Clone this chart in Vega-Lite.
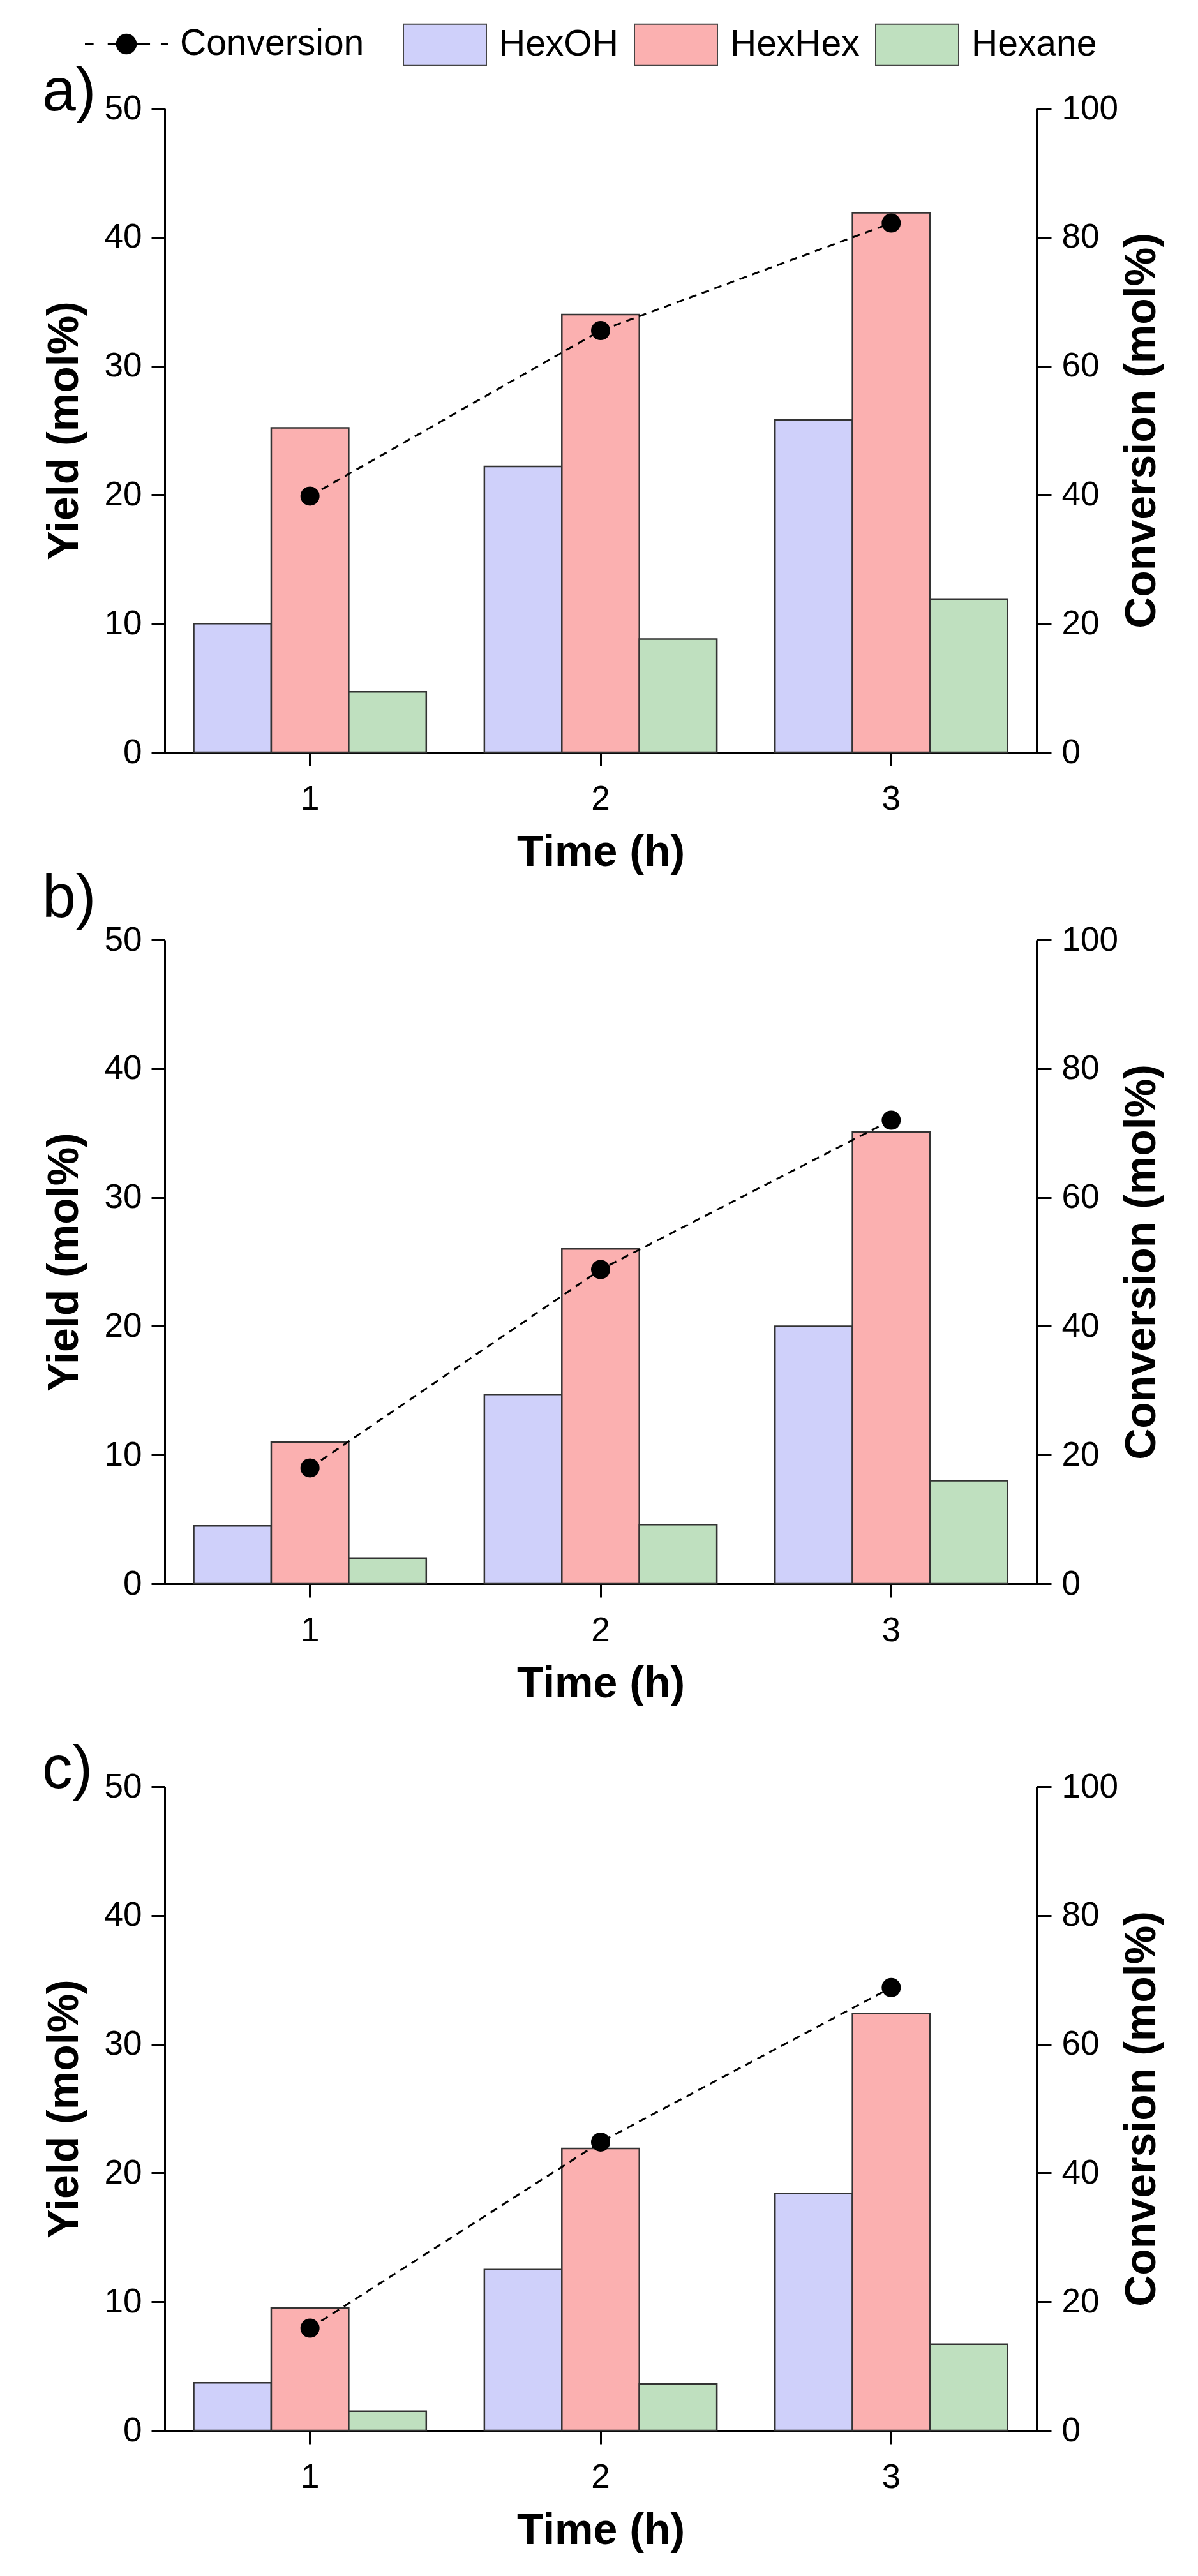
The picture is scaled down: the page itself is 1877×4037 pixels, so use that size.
{
  "$schema": "https://vega.github.io/schema/vega-lite/v6.json",
  "background": "white",
  "padding": {"left": 66, "top": 4, "right": 40, "bottom": 30},
  "bounds": "flush",
  "spacing": 294,
  "config": {
    "font": "Liberation Sans",
    "view": {"stroke": null},
    "axis": {
      "grid": false,
      "domainColor": "black",
      "domainWidth": 3,
      "tickColor": "black",
      "tickWidth": 3,
      "tickSize": 21,
      "labelFont": "Liberation Sans",
      "labelFontSize": 53,
      "labelColor": "black",
      "labelPadding": 15,
      "titleFont": "Liberation Sans",
      "titleFontSize": 68,
      "titleFontWeight": "bold",
      "titleColor": "black"
    },
    "legend": {
      "orient": "none",
      "direction": "horizontal",
      "title": null,
      "labelFont": "Liberation Sans",
      "labelFontSize": 57,
      "labelColor": "black",
      "labelOffset": 19,
      "labelLimit": 0,
      "columnPadding": 21,
      "symbolSize": 16900
    },
    "title": {
      "font": "Liberation Sans",
      "fontSize": 95,
      "fontWeight": "normal",
      "color": "black",
      "anchor": "start",
      "frame": "group",
      "baseline": "alphabetic",
      "dx": -192
    }
  },
  "datasets": {
    "yield": [
      {"panel": "a", "Time": 1, "Product": "HexOH", "Yield": 10.0},
      {"panel": "a", "Time": 1, "Product": "HexHex", "Yield": 25.2},
      {"panel": "a", "Time": 1, "Product": "Hexane", "Yield": 4.7},
      {"panel": "a", "Time": 2, "Product": "HexOH", "Yield": 22.2},
      {"panel": "a", "Time": 2, "Product": "HexHex", "Yield": 34.0},
      {"panel": "a", "Time": 2, "Product": "Hexane", "Yield": 8.8},
      {"panel": "a", "Time": 3, "Product": "HexOH", "Yield": 25.8},
      {"panel": "a", "Time": 3, "Product": "HexHex", "Yield": 41.9},
      {"panel": "a", "Time": 3, "Product": "Hexane", "Yield": 11.9},
      {"panel": "b", "Time": 1, "Product": "HexOH", "Yield": 4.5},
      {"panel": "b", "Time": 1, "Product": "HexHex", "Yield": 11.0},
      {"panel": "b", "Time": 1, "Product": "Hexane", "Yield": 2.0},
      {"panel": "b", "Time": 2, "Product": "HexOH", "Yield": 14.7},
      {"panel": "b", "Time": 2, "Product": "HexHex", "Yield": 26.0},
      {"panel": "b", "Time": 2, "Product": "Hexane", "Yield": 4.6},
      {"panel": "b", "Time": 3, "Product": "HexOH", "Yield": 20.0},
      {"panel": "b", "Time": 3, "Product": "HexHex", "Yield": 35.1},
      {"panel": "b", "Time": 3, "Product": "Hexane", "Yield": 8.0},
      {"panel": "c", "Time": 1, "Product": "HexOH", "Yield": 3.7},
      {"panel": "c", "Time": 1, "Product": "HexHex", "Yield": 9.5},
      {"panel": "c", "Time": 1, "Product": "Hexane", "Yield": 1.5},
      {"panel": "c", "Time": 2, "Product": "HexOH", "Yield": 12.5},
      {"panel": "c", "Time": 2, "Product": "HexHex", "Yield": 21.9},
      {"panel": "c", "Time": 2, "Product": "Hexane", "Yield": 3.6},
      {"panel": "c", "Time": 3, "Product": "HexOH", "Yield": 18.4},
      {"panel": "c", "Time": 3, "Product": "HexHex", "Yield": 32.4},
      {"panel": "c", "Time": 3, "Product": "Hexane", "Yield": 6.7}
    ],
    "conv": [
      {"panel": "a", "Time": 1, "Conversion": 39.8},
      {"panel": "a", "Time": 2, "Conversion": 65.5},
      {"panel": "a", "Time": 3, "Conversion": 82.2},
      {"panel": "b", "Time": 1, "Conversion": 18.0},
      {"panel": "b", "Time": 2, "Conversion": 48.8},
      {"panel": "b", "Time": 3, "Conversion": 72.0},
      {"panel": "c", "Time": 1, "Conversion": 15.9},
      {"panel": "c", "Time": 2, "Conversion": 44.8},
      {"panel": "c", "Time": 3, "Conversion": 68.8}
    ]
  },
  "vconcat": [
    {
      "title": {"text": "a)", "offset": -49},
      "width": 1366,
      "height": 1009,
      "layer": [
        {
          "data": {"name": "yield"},
          "transform": [{"filter": "datum.panel == 'a'"}],
          "mark": {"type": "bar", "stroke": "#333333", "strokeWidth": 2.5},
          "encoding": {
            "x": {"field": "Time", "type": "ordinal", "scale": {"paddingInner": 0.2, "paddingOuter": 0.1}, "axis": {"title": "Time (h)", "labelAngle": 0, "labelPadding": 26, "titlePadding": 23}},
            "xOffset": {"field": "Product", "type": "nominal", "sort": ["HexOH", "HexHex", "Hexane"], "scale": {"paddingInner": 0}},
            "y": {"field": "Yield", "type": "quantitative", "scale": {"domain": [0, 50], "nice": false}, "axis": {"values": [0, 10, 20, 30, 40, 50], "title": "Yield (mol%)", "titlePadding": 28}},
            "fill": {
              "field": "Product", "type": "nominal",
              "scale": {"domain": ["HexOH", "HexHex", "Hexane"], "range": ["#cfd0fa", "#fbb0b0", "#bfe0bf"]},
              "legend": {
                "legendX": 373, "legendY": -166,
                "symbolStrokeColor": "#444444", "symbolStrokeWidth": 2,
                "encode": {"symbols": {"update": {
                  "shape": {"value": "M-1,-0.5H1V0.5H-1Z"},
                  "stroke": {"value": "#444444"},
                  "strokeWidth": {"value": 2},
                  "opacity": {"value": 1}
                }}}
              }
            }
          }
        },
        {
          "data": {"name": "conv"},
          "transform": [{"filter": "datum.panel == 'a'"}],
          "encoding": {
            "x": {"field": "Time", "type": "ordinal"},
            "y": {"field": "Conversion", "type": "quantitative", "scale": {"domain": [0, 100], "nice": false}, "axis": {"orient": "right", "values": [0, 20, 40, 60, 80, 100], "title": "Conversion (mol%)", "titleAngle": 270, "titleBaseline": "top", "titlePadding": 4, "tickSize": 23, "labelPadding": 16}}
          },
          "layer": [
            {
              "mark": {"type": "line", "strokeWidth": 3, "strokeDash": [12, 9]},
              "encoding": {
                "stroke": {
                  "datum": "Conversion",
                  "scale": {"domain": ["Conversion"], "range": ["black"]},
                  "legend": {
                    "legendX": -125, "legendY": -166,
                    "encode": {"symbols": {"update": {
                      "shape": {"value": "M-1,-0.025H-0.79V0.025H-1Z M-0.45,-0.025H-0.25V0.025H-0.45Z M0.25,-0.025H0.57V0.025H0.25Z M0.83,-0.025H1V0.025H0.83Z M-0.25,0A0.25,0.25 0 1,0 0.25,0A0.25,0.25 0 1,0 -0.25,0Z"},
                      "fill": {"value": "black"},
                      "stroke": {"value": "transparent"},
                      "strokeWidth": {"value": 0},
                      "strokeDash": {"value": []},
                      "opacity": {"value": 1}
                    }}}
                  }
                }
              }
            },
            {"mark": {"type": "point", "filled": true, "color": "black", "size": 900, "opacity": 1}}
          ]
        }
      ],
      "resolve": {"scale": {"y": "independent"}}
    },
    {
      "bounds": "flush",
      "spacing": 318,
      "vconcat": [
        {
          "title": {"text": "b)", "offset": -10},
          "width": 1366,
          "height": 1009,
          "layer": [
            {
              "data": {"name": "yield"},
              "transform": [{"filter": "datum.panel == 'b'"}],
              "mark": {"type": "bar", "stroke": "#333333", "strokeWidth": 2.5},
              "encoding": {
                "x": {"field": "Time", "type": "ordinal", "scale": {"paddingInner": 0.2, "paddingOuter": 0.1}, "axis": {"title": "Time (h)", "labelAngle": 0, "labelPadding": 26, "titlePadding": 23}},
                "xOffset": {"field": "Product", "type": "nominal", "sort": ["HexOH", "HexHex", "Hexane"], "scale": {"paddingInner": 0}},
                "y": {"field": "Yield", "type": "quantitative", "scale": {"domain": [0, 50], "nice": false}, "axis": {"values": [0, 10, 20, 30, 40, 50], "title": "Yield (mol%)", "titlePadding": 28}},
                "fill": {"field": "Product", "type": "nominal"}
              }
            },
            {
              "data": {"name": "conv"},
              "transform": [{"filter": "datum.panel == 'b'"}],
              "encoding": {
                "x": {"field": "Time", "type": "ordinal"},
                "y": {"field": "Conversion", "type": "quantitative", "scale": {"domain": [0, 100], "nice": false}, "axis": {"orient": "right", "values": [0, 20, 40, 60, 80, 100], "title": "Conversion (mol%)", "titleAngle": 270, "titleBaseline": "top", "titlePadding": 4, "tickSize": 23, "labelPadding": 16}}
              },
              "layer": [
                {"mark": {"type": "line", "strokeWidth": 3, "strokeDash": [12, 9]}, "encoding": {"stroke": {"datum": "Conversion"}}},
                {"mark": {"type": "point", "filled": true, "color": "black", "size": 900, "opacity": 1}}
              ]
            }
          ],
          "resolve": {"scale": {"y": "independent"}}
        },
        {
          "title": {"text": "c)", "offset": -48},
          "width": 1366,
          "height": 1009,
          "layer": [
            {
              "data": {"name": "yield"},
              "transform": [{"filter": "datum.panel == 'c'"}],
              "mark": {"type": "bar", "stroke": "#333333", "strokeWidth": 2.5},
              "encoding": {
                "x": {"field": "Time", "type": "ordinal", "scale": {"paddingInner": 0.2, "paddingOuter": 0.1}, "axis": {"title": "Time (h)", "labelAngle": 0, "labelPadding": 26, "titlePadding": 23}},
                "xOffset": {"field": "Product", "type": "nominal", "sort": ["HexOH", "HexHex", "Hexane"], "scale": {"paddingInner": 0}},
                "y": {"field": "Yield", "type": "quantitative", "scale": {"domain": [0, 50], "nice": false}, "axis": {"values": [0, 10, 20, 30, 40, 50], "title": "Yield (mol%)", "titlePadding": 28}},
                "fill": {"field": "Product", "type": "nominal"}
              }
            },
            {
              "data": {"name": "conv"},
              "transform": [{"filter": "datum.panel == 'c'"}],
              "encoding": {
                "x": {"field": "Time", "type": "ordinal"},
                "y": {"field": "Conversion", "type": "quantitative", "scale": {"domain": [0, 100], "nice": false}, "axis": {"orient": "right", "values": [0, 20, 40, 60, 80, 100], "title": "Conversion (mol%)", "titleAngle": 270, "titleBaseline": "top", "titlePadding": 4, "tickSize": 23, "labelPadding": 16}}
              },
              "layer": [
                {"mark": {"type": "line", "strokeWidth": 3, "strokeDash": [12, 9]}, "encoding": {"stroke": {"datum": "Conversion"}}},
                {"mark": {"type": "point", "filled": true, "color": "black", "size": 900, "opacity": 1}}
              ]
            }
          ],
          "resolve": {"scale": {"y": "independent"}}
        }
      ]
    }
  ]
}
